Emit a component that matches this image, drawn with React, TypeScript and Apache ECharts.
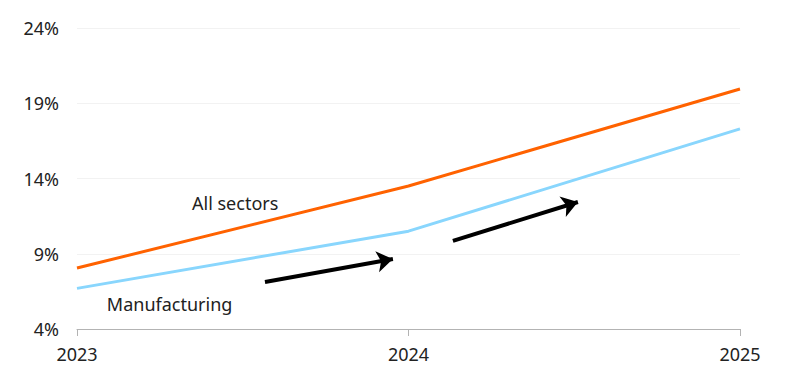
import React, { useEffect, useRef } from "react";
import * as echarts from "echarts";

const years = [2023, 2024, 2025];
const allSectors = [8.05, 13.5, 19.95];
const manufacturing = [6.7, 10.5, 17.3];
const yTicks = [4, 9, 14, 19, 24];
const arrows = [
  { from: [2023.567, 7.12], to: [2023.953, 8.65] },
  { from: [2024.134, 9.85], to: [2024.511, 12.44] },
];
const labels = [
  { text: "All sectors", at: [2023.347, 12.37] },
  { text: "Manufacturing", at: [2023.09, 5.66] },
];

const FONT = "'Noto Sans', 'Open Sans', sans-serif";

export default function App() {
  const ref = useRef<HTMLDivElement>(null);
  useEffect(() => {
    if (!ref.current) return;
    document.body.style.margin = "0";
    const chart = echarts.init(ref.current, null, { renderer: "svg" });
    chart.setOption({
      animation: false,
      grid: { left: 77, right: 60, top: 28, bottom: 47 },
      xAxis: {
        type: "value",
        min: 2023,
        max: 2025,
        interval: 1,
        axisLine: { show: true, lineStyle: { color: "#b3b3b3", width: 1 } },
        axisTick: { show: true, length: 7, lineStyle: { color: "#b3b3b3" } },
        splitLine: { show: false },
        axisLabel: {
          color: "#222",
          fontSize: 18,
          fontFamily: FONT,
          margin: 16,
          formatter: (v: number) => String(v),
        },
      },
      yAxis: {
        type: "value",
        min: yTicks[0],
        max: yTicks[yTicks.length - 1],
        interval: 5,
        axisLine: { show: false },
        axisTick: { show: false },
        splitLine: { show: true, lineStyle: { color: "#f2f2f2", width: 1 } },
        axisLabel: {
          color: "#222",
          fontSize: 18,
          fontFamily: FONT,
          margin: 18,
          formatter: (v: number) => v + "%",
        },
      },
      series: [
        {
          name: "All sectors",
          type: "line",
          data: years.map((y, i) => [y, allSectors[i]]),
          showSymbol: false,
          lineStyle: { color: "#FF6200", width: 3 },
          itemStyle: { color: "#FF6200" },
          z: 3,
        },
        {
          name: "Manufacturing",
          type: "line",
          data: years.map((y, i) => [y, manufacturing[i]]),
          showSymbol: false,
          lineStyle: { color: "#89D6FD", width: 3 },
          itemStyle: { color: "#89D6FD" },
          z: 3,
          markLine: {
            silent: true,
            symbol: ["none", "arrow"],
            symbolSize: [16, 16],
            label: { show: false },
            lineStyle: { color: "#000", width: 4, type: "solid" },
            data: arrows.map((a) => [
              { coord: a.from },
              { coord: a.to },
            ]),
          },
        },
      ],
    });
    const g = labels.map((l) => {
      const p = chart.convertToPixel({ gridIndex: 0 }, l.at) as number[];
      return {
        type: "text",
        x: p[0],
        y: p[1],
        style: {
          text: l.text,
          fill: "#222",
          font: `18px ${FONT}`,
          verticalAlign: "middle",
          align: "left",
        },
      };
    });
    chart.setOption({ graphic: g });
    return () => chart.dispose();
  }, []);
  return <div ref={ref} style={{ width: 800, height: 376 }} />;
}
